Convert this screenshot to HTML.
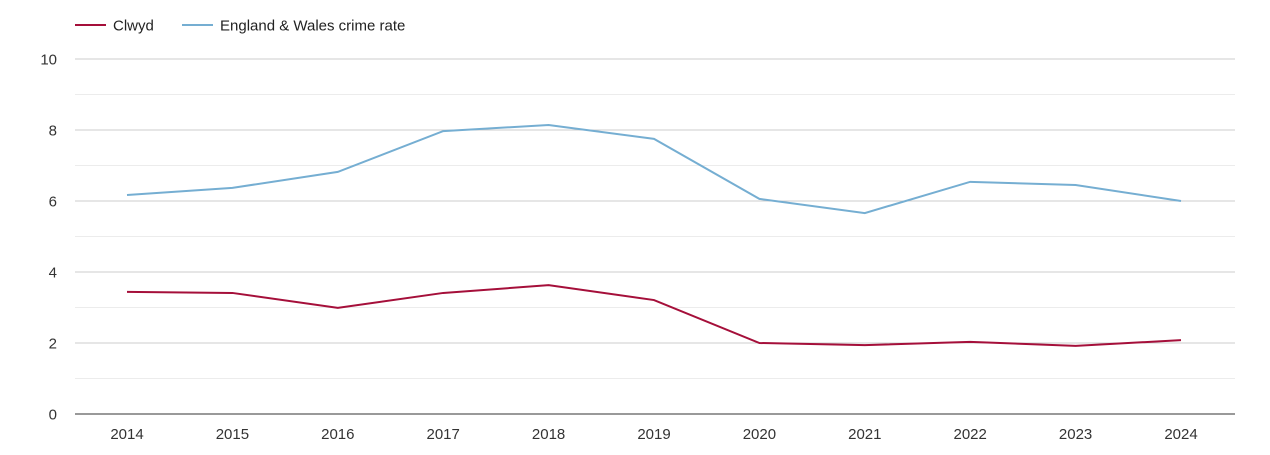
<!DOCTYPE html>
<html><head><meta charset="utf-8"><style>
body{margin:0;background:#fff;font-family:"Liberation Sans",sans-serif;}
svg text{font-family:"Liberation Sans",sans-serif;}
</style></head><body>
<svg id="chart" width="1270" height="450" xmlns="http://www.w3.org/2000/svg">
<g>
<g><line x1="75" y1="25" x2="106" y2="25" stroke="#a50f3a" stroke-width="2"/><text x="113" y="30.5" font-size="15" fill="#222">Clwyd</text></g>
<g><line x1="182" y1="25" x2="213" y2="25" stroke="#75aed2" stroke-width="2"/><text x="220" y="30.5" font-size="15" fill="#222">England &amp; Wales crime rate</text></g>
</g>
<g id="grid"></g>
<g id="yaxis"></g>
<g id="xaxis"></g>
<g id="series"></g>
</svg>
<script>
const years = [2014,2015,2016,2017,2018,2019,2020,2021,2022,2023,2024];
const clwyd = [3.44,3.41,2.99,3.41,3.63,3.21,2.0,1.94,2.03,1.92,2.08];
const englandWales = [6.17,6.37,6.82,7.97,8.14,7.75,6.06,5.66,6.54,6.45,6.0];
const yTicks = [0,2,4,6,8,10];
const ns="http://www.w3.org/2000/svg";
const x0=75,x1=1235,y0=414,yTop=59;
const xs=i=>127+i*(1181-127)/(years.length-1);
const ys=v=>y0-(v/10)*(y0-yTop);
function mk(t,a,p){const e=document.createElementNS(ns,t);for(const k in a)e.setAttribute(k,a[k]);p.appendChild(e);return e;}
const grid=document.getElementById('grid'),ya=document.getElementById('yaxis'),xa=document.getElementById('xaxis'),se=document.getElementById('series');
for(let v=1;v<10;v+=2){const l=mk('line',{x1:x0,x2:x1,y1:ys(v),y2:ys(v),stroke:'#ececec','stroke-width':1},grid);

}
yTicks.forEach(v=>{
 if(v>0){const l=mk('line',{x1:x0,x2:x1,y1:ys(v),y2:ys(v),stroke:'#cccccc','stroke-width':1},grid);
 
 }
 const t=mk('text',{x:57,y:ys(v)+5.5,'text-anchor':'end','font-size':15,fill:'#333'},ya);t.textContent=v;
 
 
});
const ax=mk('line',{x1:x0,x2:x1,y1:y0,y2:y0,stroke:'#333','stroke-width':1},xa);


years.forEach((y,i)=>{const t=mk('text',{x:xs(i),y:439,'text-anchor':'middle','font-size':15,fill:'#333'},xa);t.textContent=y;
 
 });
function line(d,c,n){const p=mk('polyline',{points:d.map((v,i)=>xs(i)+','+ys(v)).join(' '),fill:'none',stroke:c,'stroke-width':2},se);
 
 }
line(englandWales,'#75aed2','england-wales-line');
line(clwyd,'#a50f3a','clwyd-line');
</script>
</body></html>
